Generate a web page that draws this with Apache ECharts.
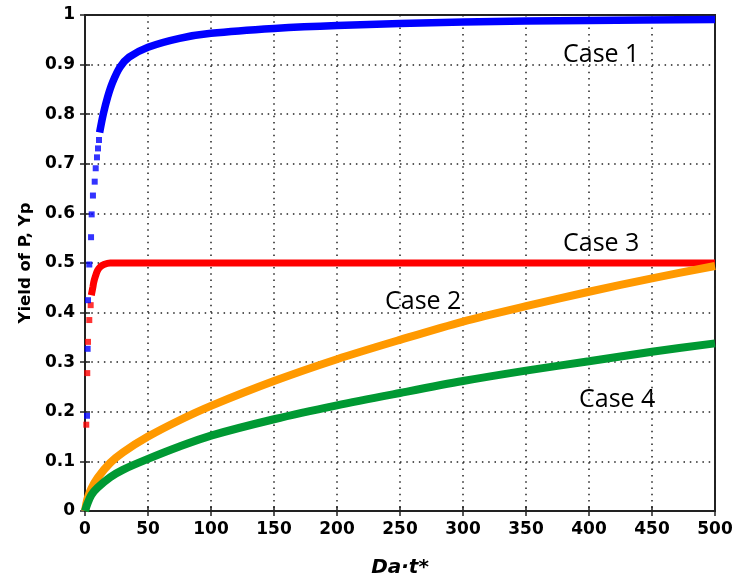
<!DOCTYPE html>
<html>
<head>
<meta charset="utf-8">
<script src="https://cdn.jsdelivr.net/npm/echarts@6/dist/echarts.min.js"></script>
<style>html,body{margin:0;padding:0;background:#fff;}#c{width:738px;height:583px;}</style>
</head>
<body>
<div id="c"></div>
<script>
// Case 1 (blue): discrete early markers, then dense curve
const case1EarlyX = [1.6, 2.1, 2.4, 3.4, 4.8, 5.3, 6.3, 7.7, 8.5, 9.5, 10.3, 11.1];
const case1EarlyY = [0.192, 0.327, 0.425, 0.497, 0.552, 0.598, 0.636, 0.664, 0.691, 0.713, 0.731, 0.748];
const case1X = [11.6, 14.5, 18, 22, 27.8, 35, 50, 75, 100, 150, 200, 300, 400, 500];
const case1Y = [0.763, 0.8, 0.835, 0.865, 0.895, 0.915, 0.935, 0.953, 0.963, 0.973, 0.979, 0.986, 0.989, 0.991];
// Case 3 (red)
const case3EarlyX = [1.0, 1.8, 2.4, 3.4, 4.5];
const case3EarlyY = [0.174, 0.278, 0.341, 0.385, 0.415];
const case3X = [5, 6.3, 7, 8.5, 10, 12, 15, 20, 30, 500];
const case3Y = [0.435, 0.452, 0.462, 0.475, 0.485, 0.492, 0.497, 0.5, 0.5, 0.5];
// Case 2 (orange)
const case2X = [0, 2, 5, 10, 20, 30, 50, 75, 100, 150, 200, 250, 300, 350, 400, 450, 500];
const case2Y = [0, 0.025, 0.045, 0.067, 0.097, 0.118, 0.15, 0.183, 0.212, 0.262, 0.306, 0.345, 0.382, 0.413, 0.442, 0.469, 0.494];
// Case 4 (green)
const case4X = [0, 2, 5, 10, 20, 30, 50, 75, 100, 150, 200, 250, 300, 350, 400, 450, 500];
const case4Y = [0, 0.015, 0.032, 0.047, 0.068, 0.083, 0.105, 0.13, 0.152, 0.185, 0.213, 0.238, 0.262, 0.283, 0.302, 0.321, 0.338];
// annotations
const caseLabels = ['Case 1', 'Case 2', 'Case 3', 'Case 4'];

const zip = (xs, ys) => xs.map((x, i) => [x, ys[i]]);

const chart = echarts.init(document.getElementById('c'), null, {renderer: 'canvas'});
const grid = {left: 85, right: 23, top: 15, bottom: 72, show: true, borderColor: '#222', borderWidth: 2, backgroundColor: '#fff'};
const gridLine = {show: true, lineStyle: {color: '#222', width: 1.5, type: [1.5, 4.8]}};
const tickFont = {fontFamily: 'DejaVu Sans', fontWeight: 'bold', fontSize: 17, color: '#000'};

const option = {
  animation: false,
  grid: grid,
  xAxis: [{
    type: 'value', min: 0, max: 500, interval: 50,
    axisLine: {show: true, lineStyle: {color: '#222', width: 2}},
    axisTick: {show: true, inside: true, length: 5, lineStyle: {color: '#222', width: 1.5}},
    axisLabel: Object.assign({margin: 10}, tickFont),
    splitLine: gridLine,
    name: 'Da\u00b7t*', nameLocation: 'middle', nameGap: 47,
    nameTextStyle: {fontFamily: 'DejaVu Sans', fontWeight: 'bold', fontStyle: 'italic', fontSize: 20, color: '#000'}
  }, {
    type: 'value', min: 0, max: 500, interval: 50, position: 'top',
    axisLine: {show: false}, axisLabel: {show: false}, splitLine: {show: false},
    axisTick: {show: true, inside: true, length: 5, lineStyle: {color: '#222', width: 1.5}}
  }],
  yAxis: [{
    type: 'value', min: 0, max: 1, interval: 0.1,
    axisLine: {show: true, lineStyle: {color: '#222', width: 2}},
    axisTick: {show: true, inside: true, length: 5, lineStyle: {color: '#222', width: 1.5}},
    axisLabel: Object.assign({margin: 10, formatter: v => (v === 0 || v === 1) ? String(v) : v.toFixed(1)}, tickFont),
    splitLine: gridLine,
    name: 'Yield of P, Yp', nameLocation: 'middle', nameGap: 50, nameRotate: 90,
    nameTextStyle: {fontFamily: 'DejaVu Sans', fontWeight: 'bold', fontSize: 16.5, color: '#000'}
  }, {
    type: 'value', min: 0, max: 1, interval: 0.1, position: 'right',
    axisLine: {show: false}, axisLabel: {show: false}, splitLine: {show: false},
    axisTick: {show: true, inside: true, length: 5, lineStyle: {color: '#222', width: 1.5}}
  }],
  series: [
    {type: 'line', name: 'Case 3', data: zip(case3X, case3Y), showSymbol: false, smooth: 0.3,
     lineStyle: {color: '#ff0000', width: 7}, z: 2},
    {type: 'scatter', data: zip(case3EarlyX, case3EarlyY), symbol: 'rect', symbolSize: 6,
     itemStyle: {color: '#ff0000'}, z: 2},
    {type: 'line', name: 'Case 2', data: zip(case2X, case2Y), showSymbol: false, smooth: 0.3,
     lineStyle: {color: '#ff9900', width: 8}, z: 3},
    {type: 'line', name: 'Case 4', data: zip(case4X, case4Y), showSymbol: false, smooth: 0.3,
     lineStyle: {color: '#009933', width: 8}, z: 3},
    {type: 'line', name: 'Case 1', data: zip(case1X, case1Y), showSymbol: false, smooth: 0.3,
     lineStyle: {color: '#0000ff', width: 7.5}, z: 4},
    {type: 'scatter', data: zip(case1EarlyX, case1EarlyY), symbol: 'rect', symbolSize: 6,
     itemStyle: {color: '#0000ff'}, z: 4}
  ],
  graphic: [
    {type: 'text', left: 563, top: 42, style: {text: caseLabels[0], font: '25px "Open Sans"', fill: '#000'}},
    {type: 'text', left: 385, top: 289, style: {text: caseLabels[1], font: '25px "Open Sans"', fill: '#000'}},
    {type: 'text', left: 563, top: 231, style: {text: caseLabels[2], font: '25px "Open Sans"', fill: '#000'}},
    {type: 'text', left: 579, top: 387, style: {text: caseLabels[3], font: '25px "Open Sans"', fill: '#000'}}
  ]
};
chart.setOption(option);
</script>
</body>
</html>
